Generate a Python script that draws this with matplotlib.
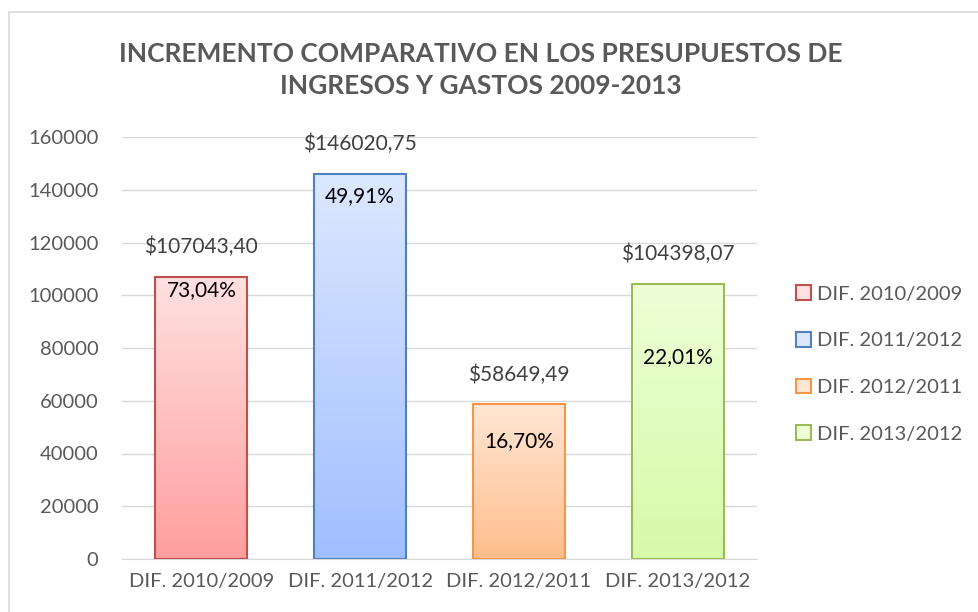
import matplotlib
matplotlib.use("Agg")
import matplotlib.pyplot as plt
import numpy as np
from matplotlib.patches import Rectangle
from matplotlib.colors import LinearSegmentedColormap

categories = ["DIF. 2010/2009", "DIF. 2011/2012", "DIF. 2012/2011", "DIF. 2013/2012"]
values = [107043.40, 146020.75, 58649.49, 104398.07]
value_labels = ["$107043,40", "$146020,75", "$58649,49", "$104398,07"]
pct_labels = ["73,04%", "49,91%", "16,70%", "22,01%"]
pct_label_y = [102000, 137600, 44700, 76600]
yticks = [0, 20000, 40000, 60000, 80000, 100000, 120000, 140000, 160000]

edge_colors = ["#C0504D", "#4F81BD", "#F79646", "#9BBB59"]
top_colors = ["#FFE1E1", "#DDE8FF", "#FFE6D4", "#EEFFD6"]
bot_colors = ["#FF9E9E", "#A0BEFF", "#FFBE8C", "#D6FAA8"]

plt.rcParams['font.family'] = ['Lato', 'DejaVu Sans']
fig = plt.figure(figsize=(9.79, 6.12), dpi=100)
# outer frame
fig.patches.append(Rectangle((9/979, -0.01), 1.0, (612-12)/612 + 0.01, transform=fig.transFigure,
                             fill=False, edgecolor="#D9D9D9", linewidth=1.2))
ax = fig.add_axes([122/979, (612-559)/612, (757-122)/979, (559-137)/612])
x = np.arange(len(categories))
width = 0.58
ax.set_yticks(yticks)
ax.set_yticklabels([str(t) for t in yticks])
ax.yaxis.grid(True, color="#D9D9D9", linewidth=1)
ax.set_axisbelow(True)
for s in ["top", "right", "left"]:
    ax.spines[s].set_visible(False)
ax.spines["bottom"].set_color("#D9D9D9")
ax.tick_params(axis="y", length=0, labelsize=14.5, colors="#595959", pad=17)
ax.tick_params(axis="x", length=0, labelsize=14.5, colors="#595959", pad=10)
ax.set_xticks(x)
ax.set_xticklabels(categories)

bars = ax.bar(x, values, width=width, color="none", edgecolor=edge_colors, linewidth=1.5, zorder=3)
for i, b in enumerate(bars):
    cmap = LinearSegmentedColormap.from_list("g%d" % i, [bot_colors[i], top_colors[i]])
    grad = np.linspace(0, 1, 256).reshape(-1, 1)
    im = ax.imshow(grad, cmap=cmap, origin="lower", aspect="auto",
                   extent=(b.get_x(), b.get_x() + b.get_width(), 0, b.get_height()), zorder=2)
    im.set_clip_path(b)
    ax.annotate(value_labels[i], (b.get_x() + b.get_width() / 2, b.get_height()),
                xytext=(0, 17), textcoords="offset points",
                ha="center", va="baseline", fontsize=15, color="#404040")
    ax.text(b.get_x() + b.get_width() / 2, pct_label_y[i], pct_labels[i],
            ha="center", va="center", fontsize=15, color="black", zorder=4)

ax.set_xlim(-0.5, len(categories) - 0.5)
ax.set_ylim(0, 160000)

handles = [Rectangle((0, 0), 1, 1, facecolor=top_colors[i], edgecolor=edge_colors[i], linewidth=1.5)
           for i in range(len(categories))]
leg = fig.legend(handles, categories, loc="center left", bbox_to_anchor=(782/979, 1 - 364/612),
                 frameon=False, fontsize=14.5, labelcolor="#595959", handlelength=0.75, handleheight=0.75,
                 handletextpad=0.3, labelspacing=1.45, borderpad=0.2)

fig.text(481/979, 1 - 70/612, "INCREMENTO COMPARATIVO EN LOS PRESUPUESTOS DE\nINGRESOS Y GASTOS 2009-2013",
         ha="center", va="center", fontsize=19, fontweight="bold", color="#595959", linespacing=1.45)

fig.savefig("out.png", dpi=100)
